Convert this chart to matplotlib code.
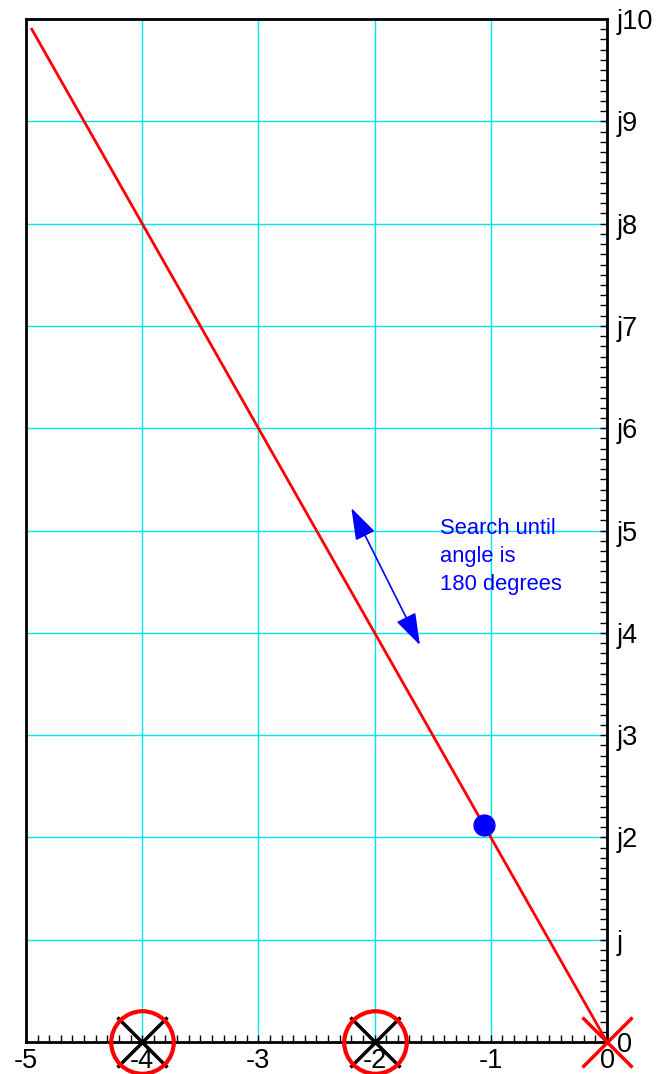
import matplotlib.pyplot as plt
import numpy as np

plt.rcParams['font.family'] = ['Liberation Sans', 'DejaVu Sans']
plt.rcParams['axes.unicode_minus'] = False

# root locus branch (straight line y = -2x) end points
locus_x = [-4.95, 0.0]
locus_y = [9.9, 0.0]

# trial point being moved along the line
trial_x = [-1.06]
trial_y = [2.12]

# open loop poles (X) and zeros (O) on the real axis
pole_x = [-4, -2]
zero_x = [-4, -2]
origin_pole_x = [0]

# search arrow end points
arrow_start = (-2.20, 5.22)
arrow_end = (-1.61, 3.88)

x_ticks = [-5, -4, -3, -2, -1, 0]
y_ticks = list(range(0, 11))
y_labels = ['0', 'j', 'j2', 'j3', 'j4', 'j5', 'j6', 'j7', 'j8', 'j9', 'j10']

fig = plt.figure(figsize=(6.58, 10.74), dpi=100)
ax = fig.add_axes([0.0395, 0.0298, 0.8830, 0.9525])

ax.set_xlim(-5, 0)
ax.set_ylim(0, 10)

ax.set_xticks(x_ticks)
ax.set_xticks(np.arange(-5, 0.001, 0.1), minor=True)
ax.set_yticks(y_ticks)
ax.set_yticklabels(y_labels)
ax.set_yticks(np.arange(0, 10.001, 0.1), minor=True)
ax.yaxis.tick_right()
ax.tick_params(axis='both', which='both', direction='in', length=5, width=1.0,
               labelsize=19.5, color='black')
ax.tick_params(axis='x', pad=4)
ax.tick_params(axis='y', pad=7)

ax.grid(True, which='major', color='#00e5ee', linewidth=1.0)
for s in ax.spines.values():
    s.set_linewidth(2)

ax.plot(locus_x, locus_y, color='red', linewidth=2, zorder=3)
ax.plot(trial_x, trial_y, 'o', color='blue', markersize=15, zorder=4)

ax.plot(pole_x, [0] * len(pole_x), 'x', color='black', markersize=36,
        markeredgewidth=2.5, clip_on=False, zorder=5)
ax.plot(zero_x, [0] * len(zero_x), 'o', markerfacecolor='none',
        markeredgecolor='red', markersize=45, markeredgewidth=3.0,
        clip_on=False, zorder=6)
ax.plot(origin_pole_x, [0], 'x', color='red', markersize=36,
        markeredgewidth=2.5, clip_on=False, zorder=6)

ax.annotate('', xy=arrow_end, xytext=arrow_start,
            arrowprops=dict(arrowstyle='<|-|>,head_length=0.9,head_width=0.3',
                            color='blue', linewidth=1.2,
                            mutation_scale=22, shrinkA=0, shrinkB=0))
ax.text(-1.44, 5.12, 'Search until\nangle is\n180 degrees', color='blue',
        fontsize=15.8, va='top', ha='left', linespacing=1.42)

fig.savefig('out.png', dpi=100)
